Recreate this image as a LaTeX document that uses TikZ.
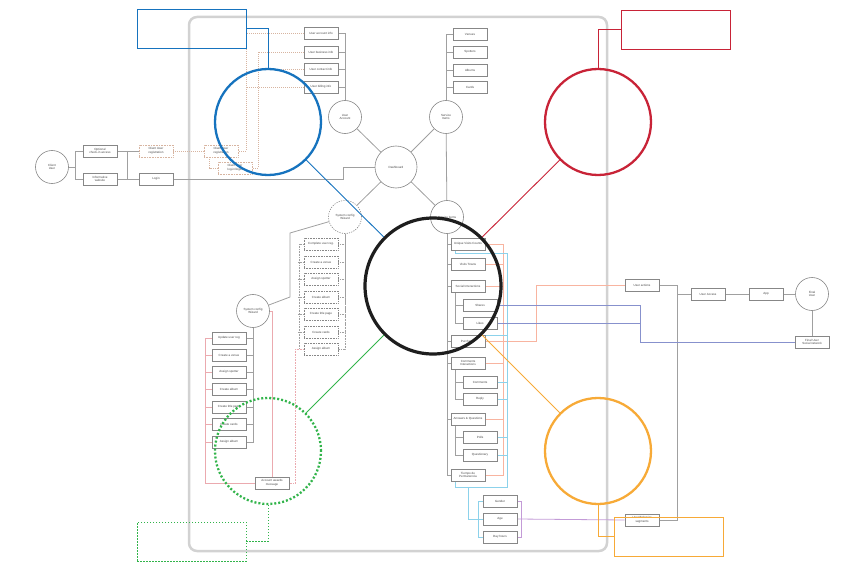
\documentclass[tikz,border=0pt]{standalone}
\usepackage{fontspec}
\setmainfont{Liberation Sans}
\definecolor{boxgray}{RGB}{135,135,135}
\definecolor{linegray}{RGB}{160,160,160}
\definecolor{cframe}{RGB}{210,210,210}
\definecolor{txt}{RGB}{70,70,70}
\definecolor{cblue}{RGB}{22,115,190}
\definecolor{cred}{RGB}{200,35,55}
\definecolor{corange}{RGB}{247,170,55}
\definecolor{cgreen}{RGB}{50,180,75}
\definecolor{cblack}{RGB}{30,30,30}
\definecolor{csalmon}{RGB}{248,180,160}
\definecolor{clblue}{RGB}{140,210,235}
\definecolor{cpink}{RGB}{235,170,175}
\definecolor{cpurple}{RGB}{195,155,215}
\definecolor{cslate}{RGB}{135,145,205}
\definecolor{cbrown}{RGB}{215,180,160}
\newcommand{\tinyfs}{\fontsize{3}{3.6}\selectfont}
\pgfdeclarelayer{frm}
\pgfdeclarelayer{bg}
\pgfdeclarelayer{top}
\pgfsetlayers{frm,bg,main,top}
\begin{document}
\begin{tikzpicture}[x=1pt,y=-1pt,
  bx/.style={draw=boxgray, line width=0.6pt, fill=white, minimum width=34pt, minimum height=12pt, inner sep=0pt, align=center, font=\tinyfs, text=txt},
  dbx/.style={bx, dash pattern=on 0.8pt off 0.8pt},
  brbx/.style={bx, draw=cbrown, dash pattern=on 0.8pt off 0.8pt},
  circ/.style={circle, draw=boxgray, line width=0.6pt, fill=white, minimum size=33pt, inner sep=0pt, align=center, font=\tinyfs, text=txt},
  conn/.style={draw=linegray, line width=0.8pt},
  dconn/.style={conn, dash pattern=on 0.8pt off 0.8pt},
  brl/.style={draw=cbrown, line width=0.6pt, dash pattern=on 0.8pt off 1.2pt},
  sal/.style={draw=csalmon, line width=0.8pt},
  lbl/.style={draw=clblue, line width=0.8pt},
  pkl/.style={draw=cpink, line width=0.8pt},
  pul/.style={draw=cpurple, line width=0.8pt},
  sll/.style={draw=cslate, line width=0.8pt},
  big/.style={circle, minimum size=106pt, inner sep=0pt, line width=2.3pt},
  crect/.style={minimum width=109pt, minimum height=39pt, inner sep=0pt, line width=0.8pt},
]
\useasboundingbox (0,0) rectangle (868,567);
\begin{pgfonlayer}{frm}
\draw[cframe, line width=2.5pt, rounded corners=8pt] (189,17) rectangle (607,551);
\end{pgfonlayer}

% left
\node[circ] (cu) at (52,167) {Client\\User};
\node[bx] (opt) at (100,151) {Optional\\check-in access};
\node[bx] (inf) at (100,179) {Informative\\website};
\node[brbx] (reg1) at (156,151) {Client User\\registration};
\node[bx] (login) at (156,179) {Login};
\node[brbx] (reg2) at (221,151) {Client User\\registration};
\node[brbx] (logn) at (235,168) {Client User\\log-in/login};

% top
\node[bx] (ua1) at (321,33) {User account info};
\node[bx] (ua2) at (321,52) {User business info};
\node[bx] (ua3) at (321,69) {User contact info};
\node[bx] (ua4) at (321,87) {User billing info};
\node[circ] (uacc) at (345,117) {User\\Account};
\node[bx] (s1) at (470,34) {Venues};
\node[bx] (s2) at (470,52) {Spotters};
\node[bx] (s3) at (470,70) {Albums};
\node[bx] (s4) at (470,87) {Cards};
\node[circ] (sitems) at (446,117) {Service\\Items};
\node[circ, minimum size=42pt] (dash) at (396,167) {Dashboard};
\node[circ, dash pattern=on 1.2pt off 1.2pt] (scw) at (345,217) {System config\\Wizard};
\node[circ] (si2) at (447,217) {Service items};

% dotted list
\node[dbx] (d1) at (321,244) {Complete user reg.};
\node[dbx] (d2) at (321,262) {Create a venue};
\node[dbx] (d3) at (321,279) {Assign spotter};
\node[dbx] (d4) at (321,297) {Create album};
\node[dbx] (d5) at (321,314) {Create title page};
\node[dbx] (d6) at (321,332) {Create cards};
\node[dbx] (d7) at (321,349) {Assign album};

% left wizard
\node[circ] (scw2) at (253,311) {System config\\Wizard};
\node[bx] (l1) at (229,338) {Update user reg};
\node[bx] (l2) at (229,355) {Create a venue};
\node[bx] (l3) at (229,372) {Assign spotter};
\node[bx] (l4) at (229,389) {Create album};
\node[bx] (l5) at (229,407) {Create title page};
\node[bx] (l6) at (229,424) {Create cards};
\node[bx] (l7) at (229,442) {Assign album};
\node[bx] (aam) at (272,483) {Account awards\\message};

% right list
\node[bx] (r1) at (468,244) {Unique Visits Counts};
\node[bx] (r2) at (468,264) {Visits Towns};
\node[bx] (r3) at (468,286) {Social Interactions};
\node[bx] (r4) at (480,305) {Shares};
\node[bx] (r5) at (480,323) {Likes};
\node[bx] (r6) at (468,341) {Purchases};
\node[bx] (r7) at (468,363) {Comments\\Interactions};
\node[bx] (r8) at (480,382) {Comments};
\node[bx] (r9) at (480,399) {Reply};
\node[bx] (r10) at (468,419) {Answers \& Questions};
\node[bx] (r11) at (480,437) {Polls};
\node[bx] (r12) at (480,455) {Questionary};
\node[bx] (r13) at (468,475) {Tiempo de\\Permanencia};

% bottom & right
\node[bx] (g1) at (500,501) {Gender};
\node[bx] (g2) at (500,519) {Age};
\node[bx] (g3) at (500,537) {Day hours};
\node[bx] (ubs) at (642,520) {User Behavior\\segments};
\node[bx] (uact) at (642,285) {User actions};
\node[bx] (uaccs) at (708,294) {User Access};
\node[bx] (app) at (766,294) {App};
\node[circ] (fu) at (812,294) {Final\\User};
\node[bx] (fusn) at (812,342) {Final User\\Social network};

% coordinates
\coordinate (k1) at (127,151);
\coordinate (k2) at (127,179);
\coordinate (k3) at (343,179);
\coordinate (k4) at (290,233);
\coordinate (k5) at (290,297);
\coordinate (k6) at (205,338);
\coordinate (k7) at (677,520);
\coordinate (k8) at (246,151);
\coordinate (k9) at (258,168);
\coordinate (k10) at (299,244);
\coordinate (k11) at (299,349);
\coordinate (k12) at (503,244);
\coordinate (k13) at (503,475);
\coordinate (k14) at (536,341);
\coordinate (k15) at (507,253);
\coordinate (k16) at (507,487);
\coordinate (k17) at (468,487);
\coordinate (k18) at (478,519);
\coordinate (k19) at (478,501);
\coordinate (k20) at (478,537);
\coordinate (k21) at (640,305);
\coordinate (k22) at (640,323);
\coordinate (k23) at (677,294);
\coordinate (k24) at (521,501);
\coordinate (k25) at (521,537);

\begin{pgfonlayer}{bg}
% gray connectors
\draw[conn] (cu.east) -- ++(7,0) coordinate (b1);
\draw[conn] (opt.west) -| (b1) |- (inf.west);
\draw[conn] (opt.east) -- (reg1.west);
\draw[conn] (inf.east) -- (login.west);
\draw[conn] (k1) -- (k2);
\draw[conn] (login.east) -- (k3) |- (dash.west);
\draw[conn] (uacc) -- (dash);
\draw[conn] (sitems) -- (dash);
\draw[conn] (dash) -- (scw);
\draw[conn] (dash) -- (si2);
\draw[conn] (sitems) -- (si2);
\draw[conn] (uacc.north) |- (ua1.east);
\draw[conn] (ua2.east) -| (uacc.north);
\draw[conn] (ua3.east) -| (uacc.north);
\draw[conn] (ua4.east) -| (uacc.north);
\draw[conn] (sitems.north) |- (s1.west);
\draw[conn] (s2.west) -| (sitems.north);
\draw[conn] (s3.west) -| (sitems.north);
\draw[conn] (s4.west) -| (sitems.north);
% dotted list brackets
\draw[dconn] (scw.south) |- (d7.east);
\foreach \n in {d1,d2,d3,d4,d5,d6} \draw[dconn] (\n.east) -| (scw.south);
\draw[dconn] (d1.west) -- (k10) -- (k11) -- (d7.west);
\foreach \n in {d2,d3,d4,d5,d6} \draw[dconn] (\n.west) -- ++(-6,0);
% wizard 2
\draw[conn] (scw) -- (k4) -- (k5) -- (scw2);
\draw[conn] (scw2.south) |- (l7.east);
\foreach \n in {l1,l2,l3,l4,l5,l6} \draw[conn] (\n.east) -| (scw2.south);
\draw[pkl] (scw2.east) -| (aam.north);
\draw[pkl] (aam.west) -| (k6) -- (l1.west);
\foreach \n in {l2,l3,l4,l5,l6,l7} \draw[pkl] (\n.west) -- ++(-7,0);
\draw[pkl, dash pattern=on 0.8pt off 0.8pt] (d7.west) -- ++(-8,0) |- (aam.east);
% right list
\draw[conn] (si2.south) |- (r13.west);
\foreach \n in {r1,r2,r3,r6,r7,r10} \draw[conn] (\n.west) -| (si2.south);
\draw[conn] ([xshift=5pt]r3.south west) |- (r5.west);
\draw[conn] (r4.west) -- ++(-7,0);
\draw[conn] ([xshift=5pt]r7.south west) |- (r9.west);
\draw[conn] (r8.west) -- ++(-7,0);
\draw[conn] ([xshift=5pt]r10.south west) |- (r12.west);
\draw[conn] (r11.west) -- ++(-7,0);
% salmon
\draw[sal] (r1.east) -- (k12) -- (k13) -- (r13.east);
\foreach \n in {r2,r3,r7,r10} \draw[sal] (\n.east) -- ++(18,0);
\draw[sal] (r6.east) -- (k14) |- (uact.west);
% light blue
\draw[lbl] ([xshift=5pt]r1.south west) |- (k15) -- (k16) -- (k17) |- (k18);
\draw[lbl] ([xshift=5pt]r13.south west) |- (k16);
\draw[lbl] ([xshift=5pt]r6.south west) |- ([yshift=6pt]k14 -| k15);
\foreach \n in {r4,r5,r8,r9,r11,r12} \draw[lbl] (\n.east) -- ++(10,0);
\draw[lbl] (g1.west) -- (k19) -- (k20) -- (g3.west);
\draw[lbl] (k18) -- (g2.west);
% purple
\draw[pul] (g1.east) -- (k24) -- (k25) -- (g3.east);
\draw[pul] (g2.east) -- (ubs.west);
% right gray
\draw[conn] (uact.east) -| (k7) -- (ubs.east);
\draw[conn] (k23) -- (uaccs.west);
\draw[conn] (uaccs) -- (app);
\draw[conn] (app) -- (fu);
\draw[conn] (fu) -- (fusn);
% slate
\draw[sll] (r4.east) -- (k21) |- (fusn.west);
\draw[sll] (r5.east) -- (k22);
% brown dotted
\draw[brl] (reg1.east) -- (reg2.west);
\draw[brl] ([xshift=6pt]reg2.south west) |- (logn.west);
\draw[brl] (ua1.west) -| (k8) -- (reg2.east);
\draw[brl] (ua2.west) -| (k9) -- (logn.east);
\draw[brl] (ua3.west) -- (ua3.west -| k9);
\draw[brl] (ua4.west) -- (ua4.west -| k8);
\end{pgfonlayer}

\begin{pgfonlayer}{top}
\node[big, draw=cblue] (cb) at (268,122) {};
\node[big, draw=cred] (cr) at (598,122) {};
\node[big, draw=corange] (cor) at (598,451) {};
\node[big, draw=cgreen, dash pattern=on 2pt off 2pt] (cg) at (268,451) {};
\node[big, draw=cblack, minimum size=136pt, line width=3.2pt] (ck) at (433,286) {};
\node[crect, draw=cblue] (rb) at (191.5,28.5) {};
\node[crect, draw=cred] (rr) at (675.5,29.5) {};
\node[crect, draw=cgreen, dash pattern=on 1.5pt off 1.5pt] (rg) at (191.5,541.5) {};
\node[crect, draw=corange] (ro) at (669,536.5) {};
\draw[cblue, line width=0.9pt] (rb.east) -| (cb.north);
\draw[cred, line width=0.9pt] (rr.west) -| (cr.north);
\draw[cgreen, line width=0.9pt, dash pattern=on 1.5pt off 1.5pt] (rg.east) -| (cg.south);
\draw[corange, line width=0.9pt] (cor.south) |- (ro.west);
\draw[cblue, line width=0.9pt] (cb) -- (ck);
\draw[cred, line width=0.9pt] (cr) -- (ck);
\draw[cgreen, line width=0.9pt] (cg) -- (ck);
\draw[corange, line width=0.9pt] (cor) -- (ck);
\end{pgfonlayer}
\end{tikzpicture}
\end{document}
